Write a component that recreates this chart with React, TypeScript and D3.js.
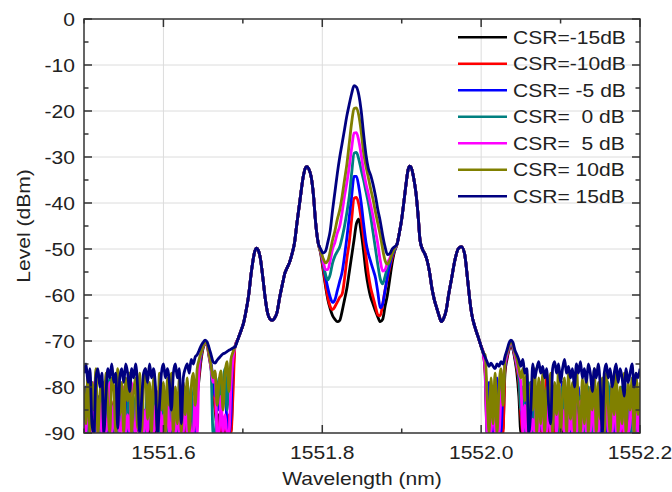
import React from "react";
import * as d3 from "d3";

// ---------- DATA ----------
const SERIES_NAMES = ["CSR=-15dB", "CSR=-10dB", "CSR= -5 dB", "CSR=  0 dB", "CSR=  5 dB", "CSR= 10dB", "CSR= 15dB"];
const SERIES_COLORS = ["#000000", "#ff0000", "#0000ff", "#008080", "#ff00ff", "#808000", "#000080"];

const X_TICKS = [1551.6, 1551.8, 1552.0, 1552.2];
const X_MINOR = [1551.5, 1551.7, 1551.9, 1552.1];
const Y_TICKS = [0, -10, -20, -30, -40, -50, -60, -70, -80, -90];
const Y_MINOR = [-5, -15, -25, -35, -45, -55, -65, -75, -85];

const NOISE_L_START = 1551.5;
const NOISE_R_START = 1552.005;
const NOISE_STEP = 0.0025;

// shared sideband shape
const BODY_L_WL = [1551.690,1551.694,1551.698,1551.701,1551.704,1551.707,1551.711,1551.715,1551.717,1551.7195,1551.722,1551.7255,1551.728,1551.731,1551.734,1551.737,1551.740,1551.743,1551.7465,1551.750,1551.753,1551.756,1551.759,1551.762,1551.765,1551.768,1551.772,1551.776,1551.779,1551.781,1551.783,1551.786,1551.789,1551.791,1551.793,1551.795];
const BODY_L_DB = [-71.3,-69.5,-67.6,-66,-63.5,-60.4,-54.6,-50.5,-49.8,-50.3,-52,-56.7,-60.5,-63.8,-65.2,-65.5,-65,-63.8,-60.4,-57.5,-55.2,-54,-52.8,-51,-48.7,-44.5,-39.3,-34.3,-32.3,-32.1,-32.6,-34.3,-38.5,-43,-46.5,-48.8];
const BODY_R_WL = [1551.894,1551.897,1551.900,1551.902,1551.905,1551.908,1551.910,1551.912,1551.915,1551.918,1551.921,1551.923,1551.926,1551.929,1551.932,1551.935,1551.938,1551.941,1551.944,1551.947,1551.950,1551.953,1551.956,1551.959,1551.9625,1551.967,1551.971,1551.975,1551.979,1551.983,1551.986,1551.988,1551.992,1551.996,1552.000,1552.0025];
const BODY_R_DB = [-49,-46.5,-43.5,-40.8,-36.5,-32.8,-32,-32.3,-34.5,-37.9,-43.5,-48,-50,-51,-52.5,-55,-58.5,-61,-62.8,-64.5,-65.8,-65,-63.3,-60,-56.7,-52.4,-50,-49.5,-50.9,-56.7,-61.5,-64,-66.9,-69,-71.2,-72.5];

// central carrier region (1551.798 .. 1551.891, step 0.003)
const CENTER_START = 1551.798;
const CENTER_STEP = 0.003;
const CENTER_M15 = [-51,-54.5,-58,-61,-63,-64.5,-65.3,-65.8,-65.5,-63.5,-61,-58.5,-55,-51.5,-48,-44.5,-43.5,-46.5,-50.5,-55,-58.2,-60.5,-62,-63.5,-64.8,-65.8,-65.3,-62.5,-60,-56.5,-53,-50.5];
const CENTER_M10 = [-50.8,-54,-57.5,-60.5,-62.5,-63.2,-62.5,-61.5,-60.5,-59.8,-56.5,-52,-48.5,-43.5,-39,-38.8,-40.3,-43.5,-47.5,-51.5,-55.5,-58.5,-60.5,-62.5,-64.3,-64.5,-62,-59,-56.5,-54,-52,-50.3];
const CENTER_M5 = [-50.5,-53,-56,-58.5,-60.5,-61.6,-61,-59,-57,-55,-51.5,-47.5,-43,-38.5,-34.2,-34.2,-36.5,-40,-44.5,-48.5,-51,-52.8,-54.5,-56.3,-59.5,-62.8,-62,-59,-56,-53.5,-51.5,-50.2];
const CENTER_0 = [-50.5,-53,-55.5,-56.7,-55.5,-53,-51.5,-50.5,-49.5,-47.5,-45,-42,-38.5,-33.5,-29.2,-29,-30.5,-32.8,-35,-37.5,-40,-43,-46.5,-50,-53.5,-56.5,-57.6,-56,-54,-52.5,-51,-50];
const CENTER_P5 = [-50.5,-52.5,-54.5,-54.5,-52.5,-50,-48.5,-46.5,-45,-42,-38.5,-35.5,-32,-28,-24.8,-24.7,-26.5,-29.5,-33,-35.8,-38,-40.5,-43,-46,-49,-52.5,-54.8,-54.5,-53,-52,-50.5,-49.8];
const CENTER_P10 = [-50.5,-52,-53,-52.5,-50.5,-48,-46,-43.5,-41.5,-38.5,-35,-31.5,-27,-22.5,-19.5,-19.3,-21,-24.5,-29,-32,-34.5,-37,-39.3,-42,-44.5,-47,-50,-52.5,-53.3,-52.5,-51,-49.8];
const CENTER_P15 = [-50,-50.9,-50.5,-48.5,-46,-41.5,-37.5,-33.5,-30,-27,-24,-21,-18.5,-16.2,-14.5,-14.8,-16.5,-20,-25,-29.5,-32.5,-34,-36,-38.5,-41.5,-44,-47,-49.5,-51.2,-51,-50,-49.5];

// noise floor, left (1551.500 .. 1551.6875, step 0.0025)
const NOISE_L_M15 = [-90,-87,-90,-84,-89,-90,-86,-90,-88,-85,-90,-88,-84,-90,-87,-90,-85,-89,-90,-86,-88,-90,-85,-90,-87,-84,-90,-88,-90,-86,-90,-85,-89,-90,-86,-88,-90,-84,-90,-87,-85,-90,-88,-90,-84,-90,-87,-89,-90,-86,-90,-88,-85,-90,-87,-84,-86,-82,-78,-74,-71.5,-70.5,-71,-73.5,-76,-80,-85,-88,-86,-90,-88,-90,-87,-90,-90,-78];
const NOISE_L_M10 = [-88,-83,-90,-86,-81,-90,-85,-89,-84,-90,-87,-82,-90,-85,-90,-83,-88,-90,-86,-81,-90,-84,-89,-90,-83,-87,-90,-85,-82,-90,-86,-90,-84,-88,-90,-82,-87,-90,-85,-89,-90,-83,-87,-90,-84,-89,-90,-86,-82,-90,-85,-90,-88,-83,-90,-87,-84,-81,-77,-73.5,-71.3,-70.4,-70.8,-72.8,-75.5,-79,-84,-88,-90,-85,-90,-87,-90,-86,-90,-82];
const NOISE_L_M5 = [-86,-80,-90,-84,-79,-90,-87,-82,-90,-85,-79,-88,-90,-83,-86,-90,-81,-87,-90,-84,-88,-82,-90,-86,-80,-90,-84,-89,-82,-90,-85,-90,-79,-87,-83,-90,-86,-81,-90,-88,-83,-90,-85,-80,-90,-87,-82,-90,-86,-81,-90,-84,-88,-90,-82,-86,-90,-80,-76,-73,-71,-70.2,-70.6,-72.2,-75,-78,-82,-79,-85,-80,-83,-78,-88,-90,-86,-73];
const NOISE_L_0 = [-82,-88,-90,-79,-85,-90,-81,-87,-90,-80,-86,-90,-83,-78,-90,-85,-80,-90,-84,-89,-81,-90,-85,-79,-88,-90,-82,-86,-90,-80,-87,-90,-81,-85,-90,-79,-88,-83,-90,-86,-80,-89,-90,-83,-86,-90,-81,-87,-90,-84,-88,-82,-90,-85,-80,-90,-86,-79,-75,-72.8,-71.2,-70.2,-70.7,-72.5,-76,-90,-90,-83,-78,-84,-80,-76,-85,-79,-77,-73];
const NOISE_L_P5 = [-84,-90,-80,-88,-90,-79,-86,-90,-83,-90,-81,-90,-87,-79,-90,-84,-90,-82,-90,-88,-80,-90,-86,-90,-79,-88,-90,-83,-90,-81,-90,-85,-90,-80,-88,-90,-84,-90,-79,-90,-86,-90,-82,-90,-88,-80,-90,-85,-90,-83,-90,-80,-90,-87,-90,-90,-82,-90,-75,-72.5,-71,-70.3,-71,-73,-76,-79,-77,-90,-90,-82,-90,-86,-90,-90,-80,-74];
const NOISE_L_P10 = [-80,-88,-77,-90,-79,-85,-76,-90,-82,-78,-89,-77,-84,-90,-78,-80,-90,-76,-86,-79,-90,-78,-83,-77,-90,-81,-78,-89,-77,-90,-80,-76,-87,-79,-90,-78,-82,-90,-77,-85,-79,-90,-78,-84,-77,-90,-80,-88,-78,-90,-79,-86,-78,-90,-80,-77,-84,-76,-74,-72.5,-71,-70.2,-70.8,-72.8,-75.5,-78,-76.5,-84,-79,-76.5,-85,-77,-74.5,-81,-74,-72.5];
const NOISE_L_P15 = [-77,-75,-79,-76,-88,-90,-78,-76,-80,-77,-90,-82,-76,-78,-75,-79,-77,-89,-78,-76,-79,-75,-77,-81,-76,-78,-75,-80,-90,-83,-77,-76,-79,-75,-78,-76,-80,-90,-84,-77,-75,-78,-76,-79,-85,-77,-75,-78,-76,-88,-78,-76,-75,-77,-74,-75,-73.5,-73,-72,-71,-70.3,-69.8,-70.2,-71.5,-73,-74.5,-74.8,-74.2,-73.7,-73.2,-72.8,-72.6,-72.3,-72,-71.8,-71.5];

// noise floor, right (1552.005 .. 1552.200, step 0.0025)
const NOISE_R_M15 = [-77,-90,-90,-86,-90,-88,-90,-85,-90,-89,-77,-74,-72,-71,-71.8,-74,-77,-82,-90,-87,-90,-88,-85,-90,-87,-90,-84,-90,-88,-90,-86,-90,-89,-85,-90,-87,-90,-88,-84,-90,-87,-90,-85,-90,-88,-90,-86,-89,-90,-85,-90,-88,-90,-84,-87,-90,-89,-90,-86,-90,-85,-90,-88,-90,-87,-84,-90,-89,-90,-86,-90,-88,-85,-90,-87,-90,-89,-86,-90];
const NOISE_R_M10 = [-76,-88,-90,-84,-90,-87,-90,-83,-89,-90,-76,-73.5,-71.8,-70.8,-71.5,-73.5,-76,-79,-86,-90,-84,-90,-88,-82,-90,-86,-90,-83,-89,-90,-85,-77,-90,-88,-84,-90,-87,-82,-90,-86,-90,-84,-89,-90,-83,-87,-90,-85,-90,-88,-84,-90,-86,-90,-82,-89,-90,-85,-88,-90,-83,-90,-87,-84,-90,-86,-90,-82,-89,-90,-86,-84,-90,-87,-90,-83,-89,-90,-86];
const NOISE_R_M5 = [-75,-85,-79,-90,-90,-83,-78,-88,-90,-80,-75.5,-73,-71.3,-70.5,-71.2,-73,-75,-77.5,-82,-88,-80,-90,-85,-79,-90,-86,-82,-90,-84,-80,-88,-90,-83,-86,-90,-81,-87,-90,-85,-79,-90,-84,-88,-90,-82,-86,-90,-80,-87,-90,-83,-89,-90,-84,-80,-90,-86,-88,-90,-82,-86,-90,-84,-80,-89,-90,-83,-87,-90,-85,-81,-90,-86,-89,-90,-83,-87,-90,-85];
const NOISE_R_0 = [-74,-90,-90,-83,-86,-80,-90,-85,-78,-82,-75,-73,-71.5,-70.6,-71.3,-73.2,-75.5,-78,-85,-80,-90,-84,-79,-88,-90,-82,-86,-90,-80,-87,-90,-83,-79,-90,-86,-81,-89,-90,-84,-80,-88,-90,-83,-86,-90,-79,-87,-90,-82,-85,-90,-84,-80,-89,-90,-83,-86,-90,-81,-88,-90,-85,-79,-88,-90,-82,-86,-90,-84,-80,-89,-90,-83,-86,-90,-81,-88,-90,-84];
const NOISE_R_P5 = [-76,-90,-84,-90,-80,-90,-88,-90,-82,-79,-75,-72.8,-71.2,-70.4,-71,-73,-75,-77,-79,-90,-84,-90,-80,-90,-87,-90,-82,-90,-79,-90,-86,-90,-81,-90,-88,-83,-90,-79,-90,-85,-90,-82,-90,-87,-90,-80,-90,-86,-83,-90,-81,-90,-88,-90,-79,-90,-84,-90,-82,-90,-87,-80,-90,-85,-90,-78,-90,-83,-90,-86,-90,-81,-90,-88,-80,-90,-84,-90,-82];
const NOISE_R_P10 = [-73,-82,-90,-78,-88,-77,-90,-80,-76,-84,-74,-72.5,-71,-70.2,-70.8,-72.5,-74,-76,-78,-76,-83,-77,-90,-79,-85,-76,-90,-78,-88,-77,-90,-80,-84,-77,-90,-79,-86,-76,-90,-82,-78,-90,-77,-87,-79,-90,-76,-84,-90,-78,-88,-77,-90,-80,-85,-76,-90,-79,-87,-78,-90,-77,-84,-90,-78,-86,-76,-90,-80,-88,-77,-90,-79,-85,-78,-90,-77,-86,-79];
const NOISE_R_P15 = [-73.5,-74.5,-75.5,-74.8,-75.5,-76,-75,-75.5,-74.5,-75,-73.4,-72,-70.5,-69.8,-70.3,-72,-73,-74.1,-75.5,-74,-77,-76,-90,-85,-75,-78,-76,-74.5,-77,-75.5,-78,-76,-84,-88,-76,-74.5,-77,-75,-79,-76,-74,-77,-75.5,-78,-76,-80,-75,-77,-74.5,-78,-76,-79,-75,-77,-81,-76,-78,-75,-80,-90,-77,-75,-78,-76,-80,-77,-75,-79,-76,-78,-82,-76,-79,-77,-75,-80,-77,-78,-76];

const CENTERS = [CENTER_M15, CENTER_M10, CENTER_M5, CENTER_0, CENTER_P5, CENTER_P10, CENTER_P15];
const NOISE_LEFT = [NOISE_L_M15, NOISE_L_M10, NOISE_L_M5, NOISE_L_0, NOISE_L_P5, NOISE_L_P10, NOISE_L_P15];
const NOISE_RIGHT = [NOISE_R_M15, NOISE_R_M10, NOISE_R_M5, NOISE_R_0, NOISE_R_P5, NOISE_R_P10, NOISE_R_P15];

// ---------- LAYOUT ----------
const W = 672, H = 492;
const M = { left: 84, right: 640, top: 19, bottom: 433 };
const FONT = "'Liberation Sans', Arial, sans-serif";
const STRETCH = 1.17;

function Txt({ x, y, anchor = "start", rotate = 0, size = 18, children }: any) {
  return (
    <g transform={`translate(${x},${y}) rotate(${rotate}) scale(${STRETCH},1)`}>
      <text textAnchor={anchor} fontSize={size} fontFamily={FONT} fill="#222" style={{ whiteSpace: "pre" }}>
        {children}
      </text>
    </g>
  );
}

export default function App() {
  const x = d3.scaleLinear().domain([1551.5, 1552.2]).range([M.left, M.right]);
  const y = d3.scaleLinear().domain([-90, 0]).range([M.bottom, M.top]);

  const series = SERIES_NAMES.map((name, s) => {
    const pts: [number, number][] = [];
    NOISE_LEFT[s].forEach((v, i) => pts.push([NOISE_L_START + i * NOISE_STEP, v]));
    BODY_L_WL.forEach((w, i) => pts.push([w, BODY_L_DB[i]]));
    CENTERS[s].forEach((v, i) => pts.push([CENTER_START + i * CENTER_STEP, v]));
    BODY_R_WL.forEach((w, i) => pts.push([w, BODY_R_DB[i]]));
    NOISE_RIGHT[s].forEach((v, i) => pts.push([NOISE_R_START + i * NOISE_STEP, v]));
    return { name, color: SERIES_COLORS[s], pts };
  });

  const line = d3
    .line<[number, number]>()
    .x((d) => x(d[0]))
    .y((d) => y(d[1]))
    .curve(d3.curveMonotoneX);

  const axisColor = "#333";
  const legendY0 = 37.3;
  const legendStep = 26.5;

  return (
    <svg width={W} height={H} style={{ position: "absolute", left: 0, top: 0, background: "#fff" }}>
      <defs>
        <clipPath id="plotclip">
          <rect x={M.left} y={M.top} width={M.right - M.left} height={M.bottom - M.top} />
        </clipPath>
      </defs>
      <rect x={0} y={0} width={W} height={H} fill="#fff" />

      {/* grid */}
      {Y_TICKS.filter((t) => t !== 0 && t !== -90).map((t) => (
        <line key={"gy" + t} x1={M.left} x2={M.right} y1={y(t)} y2={y(t)} stroke="#dcdcdc" strokeWidth={1} />
      ))}
      {X_TICKS.filter((t) => t < 1552.2).map((t) => (
        <line key={"gx" + t} x1={x(t)} x2={x(t)} y1={M.top} y2={M.bottom} stroke="#dcdcdc" strokeWidth={1} />
      ))}

      {/* data */}
      <g clipPath="url(#plotclip)">
        {series.map((s) => (
          <path key={s.name} d={line(s.pts) || ""} fill="none" stroke={s.color} strokeWidth={2.8} strokeLinejoin="round" />
        ))}
      </g>

      {/* frame */}
      <rect x={M.left} y={M.top} width={M.right - M.left} height={M.bottom - M.top} fill="none" stroke={axisColor} strokeWidth={1.5} />

      {/* ticks */}
      {Y_TICKS.map((t) => (
        <g key={"yt" + t}>
          <line x1={M.left} x2={M.left + 8} y1={y(t)} y2={y(t)} stroke={axisColor} strokeWidth={1.5} />
          <line x1={M.right} x2={M.right - 8} y1={y(t)} y2={y(t)} stroke={axisColor} strokeWidth={1.5} />
        </g>
      ))}
      {Y_MINOR.map((t) => (
        <g key={"ym" + t}>
          <line x1={M.left} x2={M.left + 4.5} y1={y(t)} y2={y(t)} stroke={axisColor} strokeWidth={1.5} />
          <line x1={M.right} x2={M.right - 4.5} y1={y(t)} y2={y(t)} stroke={axisColor} strokeWidth={1.5} />
        </g>
      ))}
      {X_TICKS.map((t) => (
        <g key={"xt" + t}>
          <line x1={x(t)} x2={x(t)} y1={M.bottom} y2={M.bottom - 8} stroke={axisColor} strokeWidth={1.5} />
          <line x1={x(t)} x2={x(t)} y1={M.top} y2={M.top + 8} stroke={axisColor} strokeWidth={1.5} />
        </g>
      ))}
      {X_MINOR.map((t) => (
        <g key={"xm" + t}>
          <line x1={x(t)} x2={x(t)} y1={M.bottom} y2={M.bottom - 4.5} stroke={axisColor} strokeWidth={1.5} />
          <line x1={x(t)} x2={x(t)} y1={M.top} y2={M.top + 4.5} stroke={axisColor} strokeWidth={1.5} />
        </g>
      ))}

      {/* tick labels */}
      {Y_TICKS.map((t) => (
        <Txt key={"yl" + t} x={75} y={y(t) + 6.5} anchor="end">
          {String(t)}
        </Txt>
      ))}
      {X_TICKS.map((t) => (
        <Txt key={"xl" + t} x={x(t)} y={459} anchor="middle">
          {t.toFixed(1)}
        </Txt>
      ))}

      {/* axis titles */}
      <Txt x={(M.left + M.right) / 2} y={485} anchor="middle">
        Wavelength (nm)
      </Txt>
      <Txt x={30} y={(M.top + M.bottom) / 2} anchor="middle" rotate={-90}>
        Level (dBm)
      </Txt>

      {/* legend */}
      {series.map((s, i) => (
        <g key={"lg" + s.name}>
          <line x1={458} x2={507} y1={legendY0 + i * legendStep} y2={legendY0 + i * legendStep} stroke={s.color} strokeWidth={2.5} />
          <Txt x={513} y={legendY0 + i * legendStep + 6.5}>
            {s.name}
          </Txt>
        </g>
      ))}
    </svg>
  );
}
